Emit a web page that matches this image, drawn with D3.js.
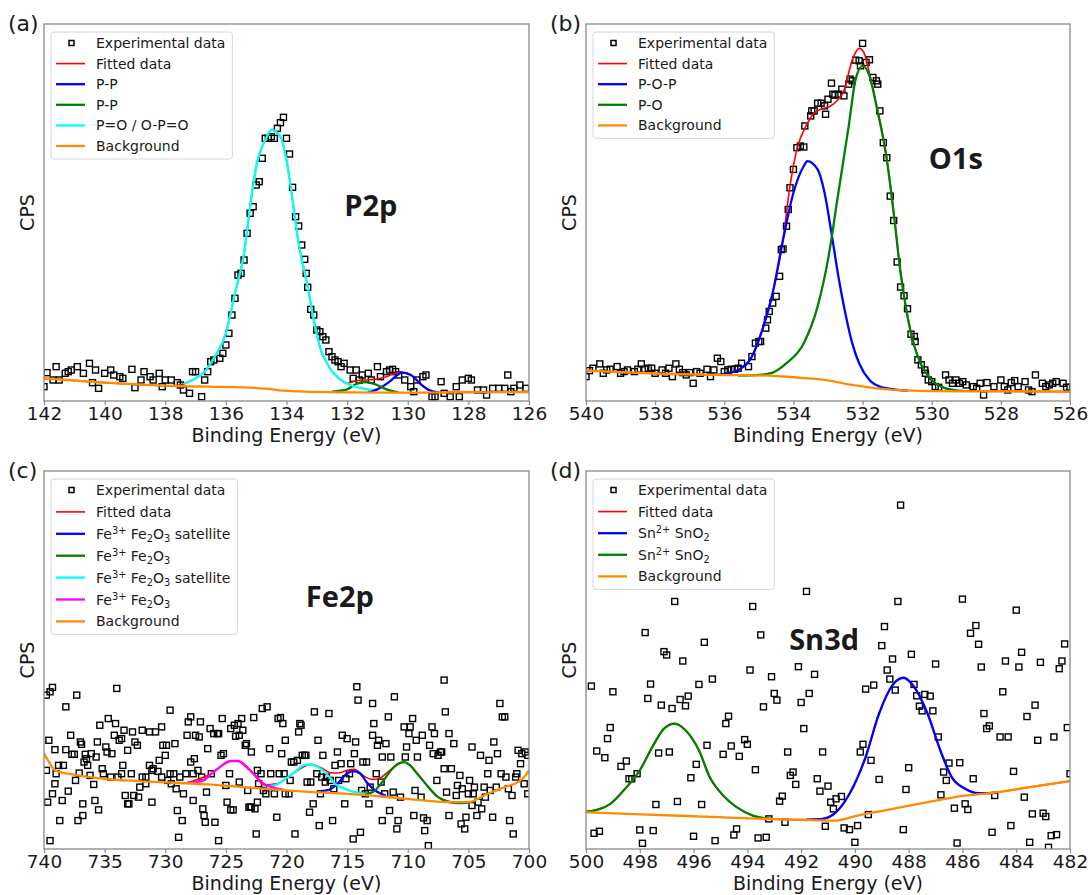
<!DOCTYPE html>
<html>
<head>
<meta charset="utf-8">
<script src="https://cdn.jsdelivr.net/npm/d3@7"></script>
<style>
  body { margin: 0; background: #fff; }
  text { font-family: 'DejaVu Sans', sans-serif; fill: #1a1a1a; }
</style>
</head>
<body>
<svg width="1089" height="895"></svg>
<script>
const svg = d3.select('svg');

// ---------- tick labels ----------
const p2pTicks  = [142, 140, 138, 136, 134, 132, 130, 128, 126];
const o1sTicks  = [540, 538, 536, 534, 532, 530, 528, 526];
const fe2pTicks = [740, 735, 730, 725, 720, 715, 710, 705, 700];
const sn3dTicks = [500, 498, 496, 494, 492, 490, 488, 486, 484, 482];

// ---------- legend labels ----------
const p2pLabels  = ['Experimental data', 'Fitted data', 'P-P', 'P-P', 'P=O / O-P=O', 'Background'];
const o1sLabels  = ['Experimental data', 'Fitted data', 'P-O-P', 'P-O', 'Background'];
const fe2pLabels = ['Experimental data', 'Fitted data', 'Fe^{3+} Fe_{2}O_{3} satellite', 'Fe^{3+} Fe_{2}O_{3}',
                    'Fe^{3+} Fe_{2}O_{3} satellite', 'Fe^{3+} Fe_{2}O_{3}', 'Background'];
const sn3dLabels = ['Experimental data', 'Fitted data', 'Sn^{2+} SnO_{2}', 'Sn^{2+} SnO_{2}', 'Background'];

// ---------- (a) P2p ----------
const p2pEnergy = [142.0,141.9,141.7,141.6,141.5,141.3,141.2,141.1,140.9,140.7,
  140.5,140.4,140.3,140.2,140.0,139.8,139.7,139.5,139.4,139.1,
  139.0,138.8,138.7,138.5,138.4,138.2,138.1,138.0,137.8,137.6,
  137.5,137.4,137.2,137.1,137.0,136.8,136.7,136.6,136.5,136.4,
  136.2,136.1,136.0,135.9,135.8,135.7,135.6,135.5,135.4,135.3,
  135.2,135.1,135.0,134.9,134.8,134.7,134.6,134.5,134.4,134.3,
  134.2,134.1,134.0,133.9,133.8,133.7,133.6,133.5,133.4,133.35,
  133.3,133.2,133.1,133.0,132.9,132.8,132.7,132.6,132.5,132.4,
  132.3,132.2,132.1,131.9,131.8,131.7,131.6,131.5,131.3,131.2,
  131.0,130.9,130.7,130.6,130.5,130.4,130.3,130.1,129.9,129.8,
  129.7,129.5,129.4,129.2,129.1,128.9,128.8,128.6,128.4,128.3,
  128.2,128.0,127.9,127.7,127.5,127.4,127.2,127.0,126.8,126.7,
  126.6,126.5,126.3,126.1];
const p2pCps = [43,85,63,103,63,83,88,93,103,83,
  113,55,93,38,83,93,78,73,68,95,
  40,63,88,73,63,83,43,63,63,55,
  48,33,23,88,88,13,63,88,118,123,
  128,143,168,203,258,308,378,383,423,503,
  563,583,648,658,728,788,788,793,788,818,
  835,851,788,741,641,553,525,468,425,383,
  341,275,258,213,208,193,183,148,133,123,
  118,103,113,93,68,93,63,78,83,63,
  103,73,88,93,95,88,78,63,43,28,
  63,73,78,13,13,58,23,13,43,13,
  63,68,63,33,33,18,38,38,38,78,
  28,38,48,38];
const p2pFitted = [[142.0,68],[141.2,63],[140.0,55],[138.9,50],[137.7,45],[137.4,51],[137.1,63],[136.7,88],
  [136.4,128],[136.0,203],[135.7,323],[135.4,443],[135.2,583],[135.0,703],[134.7,783],[134.5,813],[134.2,793],
  [134.0,723],[133.8,603],[133.6,473],[133.3,343],[133.1,243],[132.9,163],[132.6,103],[132.2,63],[132.0,53],
  [131.7,61],[131.4,63],[131.1,65],[130.7,73],[130.4,83],[130.2,86],[129.9,79],[129.6,53],[129.3,33],[129.0,26],[126.0,27]];
const p2pPP1 = [[131.3,27],[131.0,35],[130.6,58],[130.3,81],[130.2,85],[129.9,78],[129.6,53],[129.3,33],[129.0,26]];
const p2pPP2 = [[132.5,28],[132.0,35],[131.7,51],[131.4,57],[131.1,51],[130.7,35],[130.3,26]];
const p2pPO  = [[137.4,51],[137.1,63],[136.7,88],[136.4,128],[136.0,203],[135.7,323],[135.4,443],[135.2,583],
  [135.0,703],[134.7,783],[134.5,813],[134.2,793],[134.0,723],[133.8,603],[133.6,473],[133.3,343],[133.1,243],
  [132.9,163],[132.6,103],[132.2,63],[131.9,48],[131.5,38],[131.2,33]];
const p2pBackground = [[142.0,68],[141.2,63],[140.0,55],[138.9,50],[137.7,45],[136.6,43],[135.4,41],[134.7,37],
  [134.1,31],[133.4,28],[132.0,26],[129.7,25],[126.0,27]];

// ---------- (b) O1s ----------
const o1sEnergy = [540.0,539.9,539.8,539.6,539.5,539.4,539.3,539.1,539.0,538.9,
  538.8,538.6,538.5,538.4,538.3,538.2,538.1,538.0,537.8,537.7,
  537.6,537.5,537.4,537.3,537.2,537.1,537.0,536.9,536.8,536.7,
  536.5,536.4,536.3,536.2,536.1,536.0,535.9,535.8,535.7,535.6,
  535.5,535.3,535.2,535.1,535.0,534.95,534.8,534.75,534.7,534.6,
  534.5,534.4,534.35,534.3,534.2,534.15,534.1,534.0,533.9,533.8,
  533.7,533.67,533.5,533.47,533.4,533.3,533.2,533.1,533.07,533.0,
  532.9,532.86,532.8,532.7,532.6,532.54,532.4,532.36,532.3,532.2,
  532.1,532.06,532.0,531.9,531.8,531.7,531.6,531.56,531.5,531.4,
  531.3,531.2,531.1,531.0,530.9,530.8,530.7,530.6,530.5,530.48,
  530.4,530.3,530.2,530.18,530.1,530.0,529.9,529.8,529.6,529.5,
  529.4,529.3,529.2,529.1,529.0,528.8,528.7,528.6,528.5,528.4,
  528.2,528.0,527.9,527.8,527.7,527.6,527.5,527.3,527.2,527.1,
  527.0,526.8,526.7,526.6,526.5,526.4,526.2,526.1,526.0];
const o1sCps = [73,91,98,111,83,93,95,103,83,88,
  93,88,95,111,95,98,98,83,93,83,
  98,73,111,95,85,78,85,53,88,83,
  95,73,93,128,118,88,93,95,95,98,
  113,103,133,173,178,178,218,243,268,293,
  313,373,453,455,523,573,638,693,758,763,
  760,823,853,868,868,891,891,883,858,903,
  951,918,915,918,933,913,948,963,958,1020,
  1018,1003,1070,1013,1021,968,958,948,868,773,
  728,613,540,416,341,315,276,200,193,178,
  123,108,93,83,63,58,43,41,78,63,
  53,63,53,58,48,43,38,53,18,55,
  43,63,43,33,55,61,43,58,33,28,
  78,53,43,48,53,58,53,41,41];
const o1sFitted = [[540.0,91],[538.2,83],[536.2,78],[535.6,93],[535.2,133],[534.9,213],[534.6,323],[534.3,483],
  [534.1,643],[533.9,753],[533.6,830],[533.4,862],[533.15,875],[532.95,881],[532.7,903],[532.55,925],[532.3,1020],
  [532.1,1055],[531.95,1040],[531.8,980],[531.6,888],[531.3,726],[531.1,565],[530.9,385],[530.7,255],[530.5,165],
  [530.3,108],[530.0,63],[529.6,38],[529.1,30],[526.0,28]];
const o1sPOP = [[536.2,78],[536.0,81],[535.6,93],[535.2,133],[534.9,213],[534.6,323],[534.3,483],[534.0,623],
  [533.7,703],[533.6,718],[533.3,693],[533.1,623],[532.9,503],[532.7,373],[532.5,263],[532.3,173],[532.1,113],
  [531.8,63],[531.5,43],[531.1,35],[530.7,31]];
const o1sPO = [[535.6,76],[535.0,78],[534.6,85],[534.2,113],[533.7,173],[533.3,283],[533.0,423],[532.7,623],
  [532.4,823],[532.2,963],[532.0,1003],[531.8,973],[531.6,883],[531.3,723],[531.1,563],[530.9,383],[530.7,253],
  [530.5,163],[530.3,108],[530.0,63],[529.6,38],[529.1,30]];
const o1sBackground = [[540.0,91],[538.2,83],[536.2,78],[534.7,76],[534.0,71],[533.1,63],[532.3,48],[531.6,38],
  [530.6,31],[529.1,29],[526.0,28]];

// ---------- (c) Fe2p ----------
const fe2pEnergy = [739.8,739.8,739.7,739.6,739.5,739.5,739.3,739.3,739.1,739.1,
  739.0,738.8,738.7,738.5,738.4,738.2,738.2,738.0,737.8,737.7,
  737.5,737.4,737.3,737.2,737.1,737.0,736.9,736.8,736.8,736.7,
  736.6,736.5,736.4,736.2,736.1,735.9,735.8,735.7,735.6,735.5,
  735.4,735.2,735.1,734.9,734.8,734.7,734.5,734.4,734.2,734.1,
  734.0,733.9,733.8,733.6,733.6,733.5,733.4,733.3,733.1,733.1,
  733.0,732.8,732.7,732.6,732.5,732.3,732.2,732.1,731.9,731.9,
  731.6,731.6,731.3,731.3,731.1,731.1,731.0,730.8,730.6,730.5,
  730.3,730.3,730.2,730.0,729.9,729.8,729.6,729.6,729.5,729.3,
  729.2,729.1,729.0,728.9,728.8,728.6,728.5,728.3,728.2,728.1,
  727.9,727.9,727.7,727.7,727.6,727.5,727.3,727.2,727.1,727.0,
  726.9,726.8,726.7,726.6,726.5,726.3,726.2,726.0,725.9,725.7,
  725.6,725.6,725.4,725.3,725.2,725.0,724.9,724.7,724.6,724.6,
  724.4,724.3,724.2,724.0,723.9,723.9,723.7,723.6,723.4,723.3,
  723.2,723.1,723.0,722.9,722.9,722.7,722.6,722.5,722.4,722.4,
  722.3,722.1,722.0,721.9,721.7,721.6,721.4,721.3,721.0,720.8,
  720.7,720.6,720.5,720.4,720.3,720.2,720.1,720.1,719.8,719.7,
  719.6,719.4,719.3,719.1,719.0,718.9,718.8,718.7,718.5,718.4,
  718.3,718.1,718.0,717.8,717.7,717.5,717.4,717.3,717.2,717.1,
  717.0,716.8,716.7,716.5,716.4,716.2,716.1,716.0,715.8,715.7,
  715.5,715.4,715.2,715.1,715.0,714.8,714.7,714.5,714.4,714.3,
  714.2,714.1,713.9,713.8,713.7,713.5,713.4,713.2,713.1,712.9,
  712.9,712.8,712.6,712.5,712.4,712.2,712.1,712.1,711.9,711.8,
  711.6,711.5,711.4,711.2,711.1,710.9,710.8,710.6,710.3,710.2,
  710.1,709.9,709.8,709.6,709.5,709.4,709.3,709.2,708.9,708.8,
  708.7,708.6,708.4,708.3,708.2,708.0,707.9,707.8,707.6,707.5,
  707.3,707.2,707.0,707.0,706.9,706.8,706.6,706.6,706.4,706.2,
  706.0,705.9,705.7,705.6,705.5,705.3,705.2,705.0,704.9,704.7,
  704.7,704.6,704.5,704.3,704.2,704.0,703.9,703.7,703.6,703.4,
  703.3,703.2,703.0,702.9,702.7,702.6,702.4,702.3,702.2,702.0,
  701.9,701.7,701.6,701.4,701.3,701.1,701.0,700.9,700.7,700.6,
  700.4,700.3,700.1,700.1];
const fe2pCps = [460,235,140,325,25,470,483,165,195,297,
  225,250,85,145,250,297,425,173,340,283,
  283,205,460,85,227,320,313,100,135,260,
  283,270,250,220,285,193,145,275,320,117,
  370,240,225,305,290,390,215,285,340,375,
  480,215,325,330,225,250,355,160,135,295,
  135,225,350,160,320,310,155,185,215,355,
  215,195,350,250,235,140,240,350,232,265,
  365,215,310,280,310,205,225,415,195,225,
  315,180,115,35,215,85,165,225,340,380,
  395,260,225,145,270,340,235,335,380,215,
  120,100,80,170,300,360,225,345,80,345,
  25,345,280,390,285,190,140,225,360,117,
  117,370,337,375,340,200,390,355,310,315,
  175,125,125,290,125,393,120,45,235,140,
  195,225,420,175,165,425,300,225,165,95,
  390,225,393,285,375,225,165,325,165,205,
  260,260,45,265,350,375,370,280,280,280,
  200,110,200,135,410,225,325,70,165,215,
  280,200,215,405,205,85,180,250,290,205,
  255,340,135,210,330,225,255,30,285,320,
  485,445,50,175,260,165,260,135,185,340,
  435,375,225,310,325,200,275,85,165,315,
  395,115,275,170,455,60,85,155,365,275,
  305,345,365,390,100,175,325,275,155,340,
  93,55,85,10,310,365,285,345,205,280,
  290,290,240,505,410,170,100,345,240,315,
  160,190,220,75,180,60,95,165,205,305,
  130,165,185,100,140,280,120,185,155,225,
  265,175,95,320,185,285,435,225,395,395,
  215,180,85,160,45,215,225,295,255,285,
  195,290,280,165];
const fe2pFitted = [[728.2,198],[726.2,225],[724.6,263],[724.0,263],[722.6,220],[721.9,192],[720.7,196],
  [719.3,230],[718.0,253],[717.0,240],[716.4,228],[715.7,227],[715.0,235],[714.4,238],[713.7,220],[712.9,208],
  [712.4,210],[711.8,225],[711.2,243],[710.3,260],[709.2,225],[707.5,155],[705.8,137]];
const fe2pSat1 = [[717.2,173],[716.5,177],[715.8,195],[715.1,223],[714.5,233],[713.9,225],[713.4,200],[712.7,175],[711.8,159]];
const fe2pMain1 = [[713.8,163],[712.9,170],[712.1,200],[711.4,235],[710.8,255],[710.3,260],[709.8,250],[709.1,220],
  [708.3,185],[707.5,155],[706.6,140],[705.8,137],[705.0,138]];
const fe2pSat2 = [[721.9,187],[721.0,190],[720.2,207],[719.3,230],[718.6,250],[718.0,253],[717.4,245],[716.7,225],
  [716.0,195],[715.2,180],[714.4,170],[713.5,165]];
const fe2pMain2 = [[728.2,198],[727.0,203],[726.2,225],[725.3,250],[724.6,263],[724.0,263],[723.3,245],[722.6,220],
  [721.9,195],[721.0,183],[720.2,177]];
const fe2pBackground = [[740.0,285],[739.5,255],[739.1,235],[738.0,225],[735.1,210],[732.2,203],[729.3,198],
  [726.5,193],[723.6,185],[720.7,177],[717.8,170],[715.0,165],[712.1,157],[709.2,147],[706.3,140],[705.0,140],
  [703.4,165],[702.0,185],[700.9,200],[700.4,215],[700.0,235]];

// ---------- (d) Sn3d ----------
const sn3dEnergy = [499.8,499.7,499.6,499.5,499.3,499.2,499.1,499.0,498.7,498.5,
  498.4,498.3,498.1,498.0,497.9,497.8,497.7,497.6,497.5,497.4,
  497.3,497.2,497.1,497.0,496.9,496.8,496.7,496.6,496.5,496.4,
  496.3,496.2,496.1,496.0,495.9,495.8,495.7,495.6,495.5,495.3,
  495.2,494.9,494.8,494.7,494.6,494.5,494.4,494.3,494.1,494.0,
  493.9,493.8,493.7,493.6,493.5,493.4,493.3,493.2,493.1,493.0,
  492.9,492.8,492.7,492.6,492.5,492.4,492.3,492.2,492.1,492.0,
  491.9,491.8,491.7,491.5,491.4,491.3,491.2,491.1,491.0,490.9,
  490.8,490.7,490.5,490.4,490.2,490.0,489.9,489.8,489.7,489.6,
  489.5,489.4,489.3,489.1,489.0,488.9,488.8,488.7,488.6,488.5,
  488.4,488.3,488.2,488.1,488.0,487.9,487.8,487.7,487.6,487.5,
  487.4,487.2,487.1,487.0,486.9,486.8,486.7,486.6,486.5,486.3,
  486.2,486.1,486.0,485.9,485.8,485.7,485.6,485.5,485.4,485.3,
  485.2,485.1,485.0,484.9,484.8,484.6,484.5,484.4,484.3,484.2,
  484.1,484.0,483.9,483.8,483.7,483.6,483.5,483.4,483.3,483.2,
  483.1,483.0,482.9,482.8,482.7,482.6,482.5,482.4,482.3,482.2,
  482.1,482.0];
const sn3dCps = [487,47,293,53,273,330,363,470,247,263,
  210,210,225,57,17,647,450,493,55,133,
  287,430,590,580,290,420,740,142,447,562,
  428,457,213,38,253,492,133,618,310,508,
  25,283,375,397,308,42,60,277,327,313,
  535,725,237,33,640,425,35,90,515,465,
  445,143,158,80,290,220,230,193,545,438,
  360,770,465,522,210,173,290,68,188,140,
  120,150,157,63,58,20,70,290,313,478,
  103,265,490,208,608,665,535,508,568,475,
  740,1028,58,178,243,582,492,458,427,413,
  462,457,413,553,335,162,230,205,257,122,
  18,258,747,135,118,645,210,668,612,544,
  405,360,368,50,160,335,470,562,335,70,
  232,714,544,588,155,396,20,105,430,325,
  558,107,97,5,40,335,43,539,562,613,
  363,225];
const sn3dFitted = [[500.0,112],[499.6,117],[499.1,135],[498.6,175],[498.0,235],[497.5,310],[497.1,360],[496.7,375],
  [496.3,355],[495.8,295],[495.4,215],[494.9,160],[494.4,125],[493.8,100],[493.1,90],[492.5,88],[491.8,88],
  [491.2,90],[490.7,110],[490.2,165],[489.6,275],[489.1,405],[488.6,490],[488.2,512],[487.8,485],[487.3,405],
  [486.8,290],[486.4,215],[485.9,180],[485.4,167],[484.7,170],[483.5,185],[482.0,203]];
const sn3dComp1 = [[491.8,88],[491.2,90],[490.7,110],[490.2,165],[489.6,275],[489.1,405],[488.6,490],[488.2,512],
  [487.8,485],[487.3,405],[486.8,290],[486.4,215],[485.9,180],[485.4,167],[484.7,168]];
const sn3dComp2 = [[500.0,112],[499.6,117],[499.1,135],[498.6,175],[498.0,235],[497.5,310],[497.1,360],[496.7,375],
  [496.3,355],[495.8,295],[495.4,215],[494.9,160],[494.4,125],[493.8,100],[493.1,90]];
const sn3dBackground = [[500.0,110],[497.7,103],[495.1,95],[492.5,88],[490.7,85],[489.9,100],[488.6,120],
  [487.3,140],[486.1,157],[484.7,170],[483.5,185],[482.0,203]];

// ---------- colours ----------
const red = '#ff0000', blue = '#0000ff', green = '#008000', cyan = '#00ffff',
      magenta = '#ff00ff', orange = '#ff8c00';

const panels = [
  { key: 'a', tag: '(a)', frame: [44, 24, 529, 401], xDomain: [142, 126], yTop: 1131,
    ticks: p2pTicks, energy: p2pEnergy, cps: p2pCps,
    curves: [p2pFitted, p2pPP1, p2pPP2, p2pPO, p2pBackground],
    colors: [red, blue, green, cyan, orange],
    labels: p2pLabels, title: 'P2p', titleAt: [0.674, 0.49], spacing: 20.6 },
  { key: 'b', tag: '(b)', frame: [586, 24, 1070, 401], xDomain: [540, 526], yTop: 1128,
    ticks: o1sTicks, energy: o1sEnergy, cps: o1sCps,
    curves: [o1sFitted, o1sPOP, o1sPO, o1sBackground],
    colors: [red, blue, green, orange],
    labels: o1sLabels, title: 'O1s', titleAt: [0.764, 0.615], spacing: 20.6 },
  { key: 'c', tag: '(c)', frame: [44, 471, 529, 849], xDomain: [740, 700], yTop: 1130,
    ticks: fe2pTicks, energy: fe2pEnergy, cps: fe2pCps,
    curves: [fe2pFitted, fe2pSat1, fe2pMain1, fe2pSat2, fe2pMain2, fe2pBackground],
    colors: [red, blue, green, cyan, magenta, orange],
    labels: fe2pLabels, title: 'Fe2p', titleAt: [0.61, 0.64], spacing: 21.9 },
  { key: 'd', tag: '(d)', frame: [586, 471, 1070, 849], xDomain: [500, 482], yTop: 1130,
    ticks: sn3dTicks, energy: sn3dEnergy, cps: sn3dCps,
    curves: [sn3dFitted, sn3dComp1, sn3dComp2, sn3dBackground],
    colors: [red, blue, green, orange],
    labels: sn3dLabels, title: 'Sn3d', titleAt: [0.492, 0.526], spacing: 21.6 }
];

// text with ^{..} superscripts and _{..} subscripts
const richText = (sel, str) => {
  const parts = str.split(/(\^\{[^}]*\}|_\{[^}]*\})/).filter(s => s);
  let shift = 0;
  parts.forEach(p => {
    let txt = p, target = 0, small = false;
    if (p.startsWith('^{')) { txt = p.slice(2, -1); target = -5; small = true; }
    else if (p.startsWith('_{')) { txt = p.slice(2, -1); target = 3; small = true; }
    const t = sel.append('tspan').attr('dy', target - shift).text(txt);
    if (small) t.attr('font-size', '70%');
    shift = target;
  });
};

const drawPanel = p => {
  const [x0, y0, x1, y1] = p.frame;
  const xScale = d3.scaleLinear().domain(p.xDomain).range([x0, x1]);
  const yScale = d3.scaleLinear().domain([0, p.yTop]).range([y1, y0]);
  const g = svg.append('g');

  g.append('clipPath').attr('id', 'clip-' + p.key)
    .append('rect').attr('x', x0).attr('y', y0).attr('width', x1 - x0).attr('height', y1 - y0);
  const plot = g.append('g').attr('clip-path', `url(#clip-${p.key})`);

  // experimental data (open squares)
  plot.selectAll('rect.pt')
    .data(d3.zip(p.energy, p.cps))
    .join('rect')
      .attr('class', 'pt')
      .attr('x', d => xScale(d[0]) - 3)
      .attr('y', d => yScale(d[1]) - 3)
      .attr('width', 6).attr('height', 6)
      .attr('fill', 'none').attr('stroke', '#000').attr('stroke-width', 1.4);

  // fitted curve, components, background
  const line = d3.line()
    .x(d => xScale(d[0]))
    .y(d => yScale(d[1]))
    .curve(d3.curveMonotoneX);
  p.curves.forEach((c, i) => {
    plot.append('path').datum(c)
      .attr('d', line)
      .attr('fill', 'none')
      .attr('stroke', p.colors[i])
      .attr('stroke-width', i === 0 ? 1.6 : 2.3)
      .attr('stroke-linejoin', 'round');
  });

  // x-axis
  const xAxis = d3.axisBottom(xScale)
    .tickValues(p.ticks)
    .tickFormat(d3.format('d'))
    .tickSize(4).tickSizeOuter(0).tickPadding(2);
  const xAxisG = g.append('g').attr('transform', `translate(0,${y1})`).call(xAxis);
  xAxisG.select('.domain').remove();
  xAxisG.selectAll('.tick line').attr('stroke', '#8a8a8a').attr('stroke-width', 1.2);
  xAxisG.selectAll('.tick text')
    .attr('font-size', 18.5).attr('font-family', 'DejaVu Sans').attr('fill', '#1a1a1a');

  // frame
  g.append('rect')
    .attr('x', x0).attr('y', y0).attr('width', x1 - x0).attr('height', y1 - y0)
    .attr('fill', 'none').attr('stroke', '#8a8a8a').attr('stroke-width', 1.3);

  // axis labels
  g.append('text')
    .attr('x', (x0 + x1) / 2).attr('y', y1 + 41)
    .attr('text-anchor', 'middle').attr('font-size', 19)
    .text('Binding Energy (eV)');
  g.append('text')
    .attr('transform', `translate(${x0 - 10},${(y0 + y1) / 2}) rotate(-90)`)
    .attr('text-anchor', 'middle').attr('font-size', 19)
    .text('CPS');

  // panel tag and element title
  g.append('text').attr('x', x0 - 36).attr('y', y0 + 7).attr('font-size', 22).text(p.tag);
  g.append('text')
    .attr('x', x0 + p.titleAt[0] * (x1 - x0))
    .attr('y', y1 - p.titleAt[1] * (y1 - y0))
    .attr('text-anchor', 'middle')
    .attr('font-weight', 700).attr('font-size', 29)
    .style('font-family', "'Open Sans', sans-serif")
    .text(p.title);

  // legend
  const lg = g.append('g');
  const lx = x0 + 7, ly = y0 + 8;
  const box = lg.append('rect')
    .attr('x', lx).attr('y', ly).attr('rx', 3)
    .attr('fill', '#fff').attr('fill-opacity', 0.85)
    .attr('stroke', '#d8d8d8').attr('stroke-width', 1);
  let right = 0;
  p.labels.forEach((lab, i) => {
    const cy = ly + 11 + i * p.spacing;
    if (i === 0) {
      lg.append('rect')
        .attr('x', x0 + 25).attr('y', cy - 2.5).attr('width', 5).attr('height', 5)
        .attr('fill', 'none').attr('stroke', '#000').attr('stroke-width', 1.5);
    } else {
      lg.append('line')
        .attr('x1', x0 + 12).attr('x2', x0 + 41).attr('y1', cy).attr('y2', cy)
        .attr('stroke', p.colors[i - 1]).attr('stroke-width', i === 1 ? 1.6 : 2.3);
    }
    const t = lg.append('text').attr('x', x0 + 52).attr('y', cy + 5).attr('font-size', 14);
    richText(t, lab);
    right = Math.max(right, x0 + 52 + t.node().getBBox().width);
  });
  box.attr('width', right + 7 - lx)
     .attr('height', 11 + (p.labels.length - 1) * p.spacing + 13);
};

panels.forEach(drawPanel);
</script>
</body>
</html>
